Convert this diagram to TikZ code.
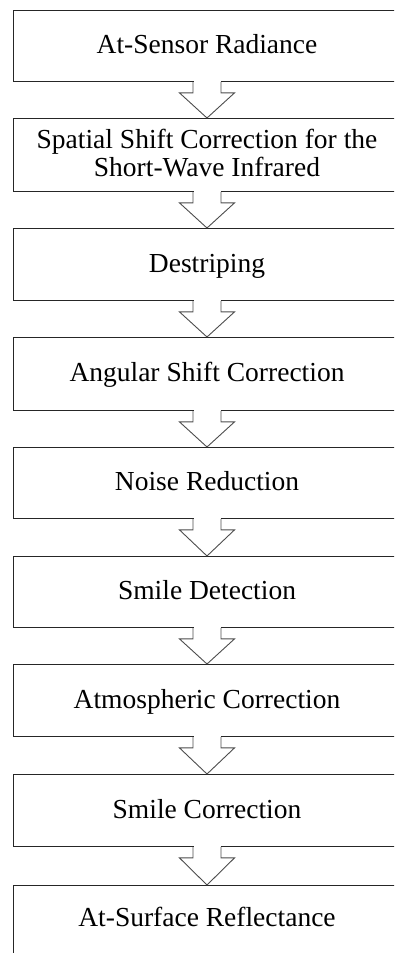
\documentclass[tikz,border=0pt]{standalone}
\usepackage{fontspec}
\setmainfont{Liberation Serif}
\tikzset{
  stage/.style={draw=black!85, line width=0.9pt, fill=white,
    minimum width=388pt, minimum height=72pt, anchor=north,
    align=center, inner sep=0pt, text height=18.2pt, text depth=3pt,
    font=\fontsize{27.5}{28.8}\selectfont},
  flowarrow/.style={draw=black!70, line width=0.9pt, line join=miter},
}
\begin{document}
\begin{tikzpicture}[x=1pt,y=-1pt]
\useasboundingbox (0,0) rectangle (394,953);
\clip (0,0) rectangle (394,953);

% processing stages, top to bottom
\node[stage, minimum height=71pt] (s1) at (207,10) {At-Sensor Radiance};
\node[stage, minimum height=73pt, text height=47pt] (s2) at (207,118) {Spatial Shift Correction for the\\Short-Wave Infrared};
\node[stage] (s3) at (207,228) {Destriping};
\node[stage, minimum height=73pt] (s4) at (207,337) {Angular Shift Correction};
\node[stage, minimum height=71pt] (s5) at (207,447) {Noise Reduction};
\node[stage, minimum height=71pt] (s6) at (207,556) {Smile Detection};
\node[stage] (s7) at (207,664) {Atmospheric Correction};
\node[stage] (s8) at (207,774) {Smile Correction};
\node[stage, text depth=9pt] (s9) at (207,885) {At-Surface Reflectance};

% hollow block arrows joining consecutive stages
\foreach \a/\b in {s1/s2,s2/s3,s3/s4,s4/s5,s5/s6,s6/s7,s7/s8,s8/s9}{
  \fill[white] ([xshift=-13.5pt,yshift=1.2pt]\a.south) rectangle ([xshift=13.5pt,yshift=-1.2pt]\a.south);
  \draw[flowarrow]
    ([xshift=-14pt]\a.south) -- ([xshift=-14pt,yshift=-11pt]\a.south)
    -- ([xshift=-27.5pt,yshift=-11pt]\a.south) -- (\b.north)
    -- ([xshift=27.5pt,yshift=-11pt]\a.south) -- ([xshift=14pt,yshift=-11pt]\a.south)
    -- ([xshift=14pt]\a.south);
}
\end{tikzpicture}
\end{document}
